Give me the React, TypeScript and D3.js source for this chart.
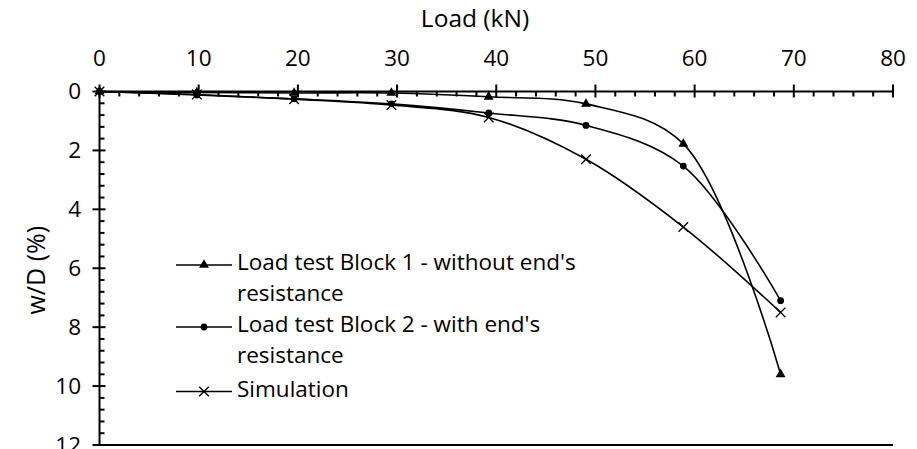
import React from "react";
import * as d3 from "d3";

// Applied load (kN) at each loading step
const loads = [0, 9.81, 19.62, 29.43, 39.24, 49.05, 58.86, 68.67];
// Settlement ratio w/D (%) per series
const block1 = [0, 0.03, 0.05, 0.05, 0.18, 0.42, 1.78, 9.6];
const block2 = [0, 0.12, 0.25, 0.42, 0.73, 1.15, 2.53, 7.1];
const simulation = [0, 0.1, 0.26, 0.46, 0.88, 2.3, 4.6, 7.5];

const seriesNames = [
  ["Load test Block 1 - without end's", "resistance"],
  ["Load test Block 2 - with end's", "resistance"],
  ["Simulation"],
];

const xTicks = [0, 10, 20, 30, 40, 50, 60, 70, 80];
const yTicks = [0, 2, 4, 6, 8, 10, 12];

const W = 917;
const H = 449;
const FONT = "'Open Sans', sans-serif";
const FS = 22.5;

type Marker = "triangle" | "dot" | "cross";

function MarkerShape({ kind, x, y }: { kind: Marker; x: number; y: number }) {
  if (kind === "triangle") {
    const p = d3.symbol(d3.symbolTriangle, 42)();
    return <path d={p || ""} transform={`translate(${x},${y})`} fill="#000" />;
  }
  if (kind === "dot") {
    return <circle cx={x} cy={y} r={3.4} fill="#000" />;
  }
  const s = 4.8;
  return (
    <path
      d={`M${x - s},${y - s}L${x + s},${y + s}M${x - s},${y + s}L${x + s},${y - s}`}
      stroke="#000"
      strokeWidth={1.3}
      fill="none"
    />
  );
}

export default function App() {
  const x = d3.scaleLinear().domain([0, 80]).range([99.5, 893]);
  const y = d3.scaleLinear().domain([0, 12]).range([91.5, 445]);

  const line = d3
    .line<[number, number]>()
    .x((d) => x(d[0]))
    .y((d) => y(d[1]))
    .curve(d3.curveCatmullRom.alpha(0.5));

  const series: { values: number[]; marker: Marker }[] = [
    { values: block1, marker: "triangle" },
    { values: block2, marker: "dot" },
    { values: simulation, marker: "cross" },
  ];

  const xMinor = d3.range(0, 80.001, 2).filter((v) => v % 10 !== 0);
  const yMinor = d3.range(0, 12.001, 0.4).filter((v) => Math.abs(v / 2 - Math.round(v / 2)) > 1e-6);

  const legendRows = [265, 327, 391.5];

  return (
    <svg
      width={W}
      height={H}
      style={{ position: "fixed", left: 0, top: 0, background: "#fff" }}
      fontFamily={FONT}
    >
      <rect width={W} height={H} fill="#fff" />

      {/* axis titles */}
      <text x={475} y={27} textAnchor="middle" fontSize={24.5} fill="#000">
        Load (kN)
      </text>
      <text
        transform={`translate(45,${(y(0) + y(12)) / 2 + 2}) rotate(-90)`}
        textAnchor="middle"
        fontSize={25}
        fill="#000"
      >
        w/D (%)
      </text>

      {/* series */}
      {series.map((s, i) => (
        <g key={i}>
          <path
            d={line(loads.map((l, j) => [l, s.values[j]] as [number, number])) || ""}
            fill="none"
            stroke="#000"
            strokeWidth={1.6}
          />
          {loads.map((l, j) => (
            <MarkerShape key={j} kind={s.marker} x={x(l)} y={y(s.values[j])} />
          ))}
        </g>
      ))}

      {/* top x axis */}
      <line x1={x(0)} x2={x(80)} y1={y(0)} y2={y(0)} stroke="#000" strokeWidth={2} />
      {xTicks.map((t) => (
        <g key={t}>
          <line x1={x(t)} x2={x(t)} y1={y(0) - 7} y2={y(0) + 6} stroke="#000" strokeWidth={2} />
          <text x={x(t)} y={66} textAnchor="middle" fontSize={FS} fill="#000">
            {t}
          </text>
        </g>
      ))}
      {xMinor.map((t) => (
        <line key={t} x1={x(t)} x2={x(t)} y1={y(0)} y2={y(0) + 5} stroke="#000" strokeWidth={2} />
      ))}

      {/* left y axis */}
      <line x1={x(0)} x2={x(0)} y1={y(0)} y2={y(12)} stroke="#000" strokeWidth={2} />
      <line x1={x(0)} x2={x(80)} y1={y(12)} y2={y(12)} stroke="#000" strokeWidth={2} />
      {yTicks.map((t) => (
        <g key={t}>
          <line x1={x(0) - 7} x2={x(0) + 6} y1={y(t)} y2={y(t)} stroke="#000" strokeWidth={2} />
          <text x={81} y={y(t) + 7.5} textAnchor="end" fontSize={FS} fill="#000">
            {t}
          </text>
        </g>
      ))}
      {yMinor.map((t) => (
        <line key={t} x1={x(0)} x2={x(0) + 5} y1={y(t)} y2={y(t)} stroke="#000" strokeWidth={2} />
      ))}

      {/* legend */}
      {series.map((s, i) => (
        <g key={i}>
          <line x1={176} x2={232} y1={legendRows[i]} y2={legendRows[i]} stroke="#000" strokeWidth={1.6} />
          <MarkerShape kind={s.marker} x={204} y={legendRows[i]} />
          {seriesNames[i].map((txt, k) => (
            <text key={k} x={237} y={legendRows[i] + 5 + k * 31} fontSize={FS} fill="#000">
              {txt}
            </text>
          ))}
        </g>
      ))}
    </svg>
  );
}
